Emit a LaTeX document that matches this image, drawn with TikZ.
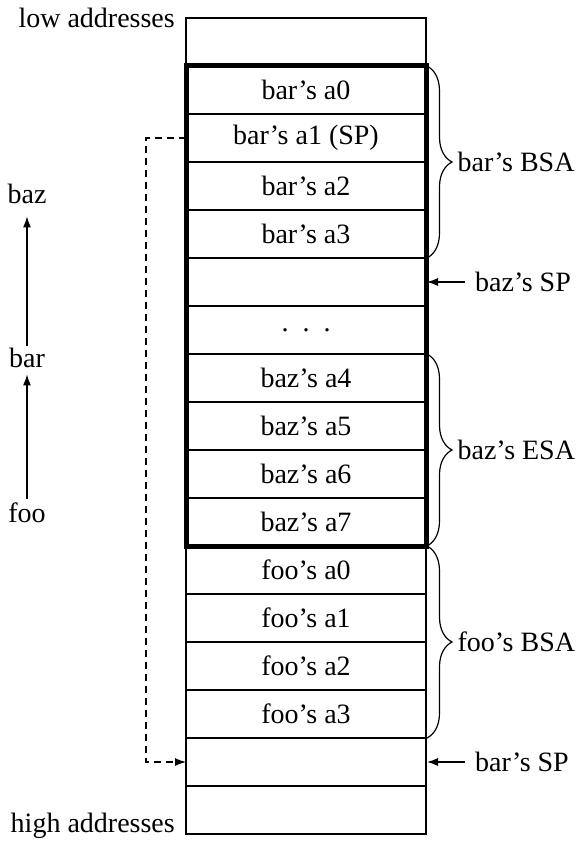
\documentclass[tikz,border=0pt]{standalone}
\usepackage{fontspec}
\setmainfont{Liberation Serif}
\usetikzlibrary{arrows.meta,decorations.pathreplacing}
\begin{document}
\fontsize{28}{32}\selectfont
\spaceskip=0.32em plus 0.1em minus 0.05em
\begin{tikzpicture}[x=1pt,y=-1pt,
  cell/.style={draw,line width=1.3pt,minimum width=240pt,minimum height=48pt,inner sep=0pt,outer sep=0pt,anchor=north west},
  lbl/.style={inner sep=3pt},
  arr/.style={line width=1.2pt,-{Latex[length=11pt,width=8pt]}},
  dasharr/.style={line width=1.1pt,dash pattern=on 7pt off 5pt,-{Latex[length=11pt,width=8pt]}},
  bracedec/.style={decorate,decoration={brace,amplitude=25pt,raise=1pt},line width=1.2pt}]
\useasboundingbox (0,0) rectangle (582,845);
% cells
\node[cell] (r0) at (186,18) {};
\node[cell] (r1) at (186,66) {bar’s a0};
\node[cell] (r2) at (186,114) {bar’s a1 (SP)};
\node[cell] (r3) at (186,162) {bar’s a2};
\node[cell] (r4) at (186,210) {bar’s a3};
\node[cell] (r5) at (186,258) {};
\node[cell] (r6) at (186,306) {.\ \ .\ \ .};
\node[cell] (r7) at (186,354) {baz’s a4};
\node[cell] (r8) at (186,402) {baz’s a5};
\node[cell] (r9) at (186,450) {baz’s a6};
\node[cell] (r10) at (186,498) {baz’s a7};
\node[cell] (r11) at (186,546) {foo’s a0};
\node[cell] (r12) at (186,594) {foo’s a1};
\node[cell] (r13) at (186,642) {foo’s a2};
\node[cell] (r14) at (186,690) {foo’s a3};
\node[cell] (r15) at (186,738) {};
\node[cell] (r16) at (186,786) {};
% thick frame
\draw[line width=5pt] (r1.north west) rectangle (r10.south east);
% address labels
\node[lbl,anchor=base east] (low) at (178,28) {low addresses};
\node[lbl,anchor=base east] (high) at (178,832) {high addresses};
% call chain
\node[lbl,anchor=base] (baz) at (27,203) {baz};
\node[lbl,anchor=base] (bar) at (27,367) {bar};
\node[lbl,anchor=base] (foo) at (27,522) {foo};
\draw[arr,shorten >=4pt] (foo.north) -- (bar.south);
\draw[arr,shorten >=10pt,shorten <=-2pt] (bar.north) -- (baz.south);
% dashed link
\draw[dasharr] (r2.west) -- ++(-40,0) |- (r15.west);
% braces
\draw[bracedec] (r1.north east) -- (r4.south east) node[midway,lbl,anchor=west,xshift=28pt] (bsa1) {bar’s BSA};
\draw[bracedec] (r7.north east) -- (r10.south east) node[midway,lbl,anchor=west,xshift=28pt] (esa) {baz’s ESA};
\draw[bracedec] (r11.north east) -- (r14.south east) node[midway,lbl,anchor=west,xshift=28pt] (bsa2) {foo’s BSA};
% SP arrows
\node[lbl,anchor=west] (bazsp) at (472,282) {baz’s SP};
\node[lbl,anchor=west] (barsp) at (472,762) {bar’s SP};
\draw[arr,shorten <=7pt,shorten >=1pt] (bazsp.west) -- (bazsp.west -| r5.east);
\draw[arr,shorten <=7pt,shorten >=1pt] (barsp.west) -- (barsp.west -| r15.east);
\end{tikzpicture}
\end{document}
